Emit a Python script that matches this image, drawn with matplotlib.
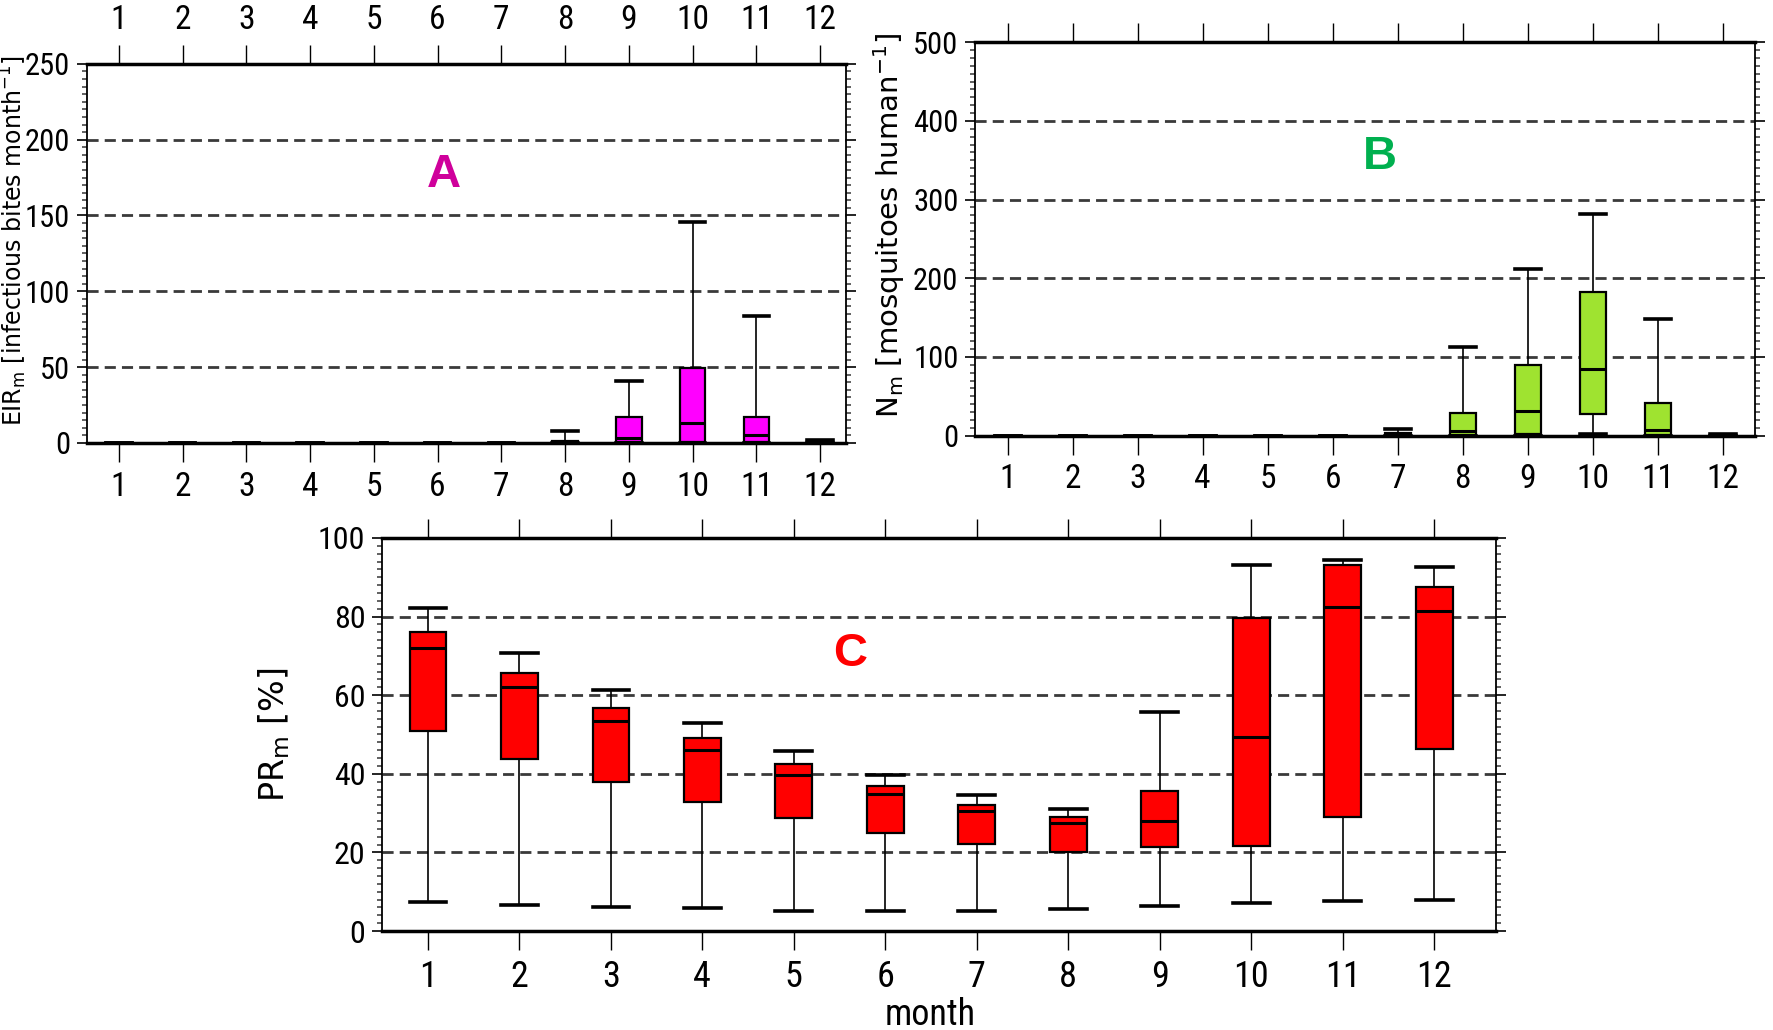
import matplotlib
matplotlib.use("Agg")
import matplotlib.pyplot as plt
from matplotlib import font_manager as fm
from matplotlib.ticker import MultipleLocator

# meses
months = list(range(1, 13))

# panel A - EIR
eir_low = [0, 0, 0, 0, 0, 0, 0, 0, 0, 0, 0, 0]
eir_q1 = [0, 0, 0, 0, 0, 0, 0, 0, 0.5, 0.5, 0.5, 0]
eir_med = [0, 0, 0, 0, 0, 0, 0, 0.5, 3, 13.4, 5.3, 0.5]
eir_q3 = [0, 0, 0, 0, 0, 0, 0, 1.5, 17, 49.5, 17, 1.5]
eir_high = [0, 0, 0, 0, 0, 0, 0, 8, 41, 145.5, 84, 2]

# panel B - N
n_low = [0, 0, 0, 0, 0, 0, 0, 0, 0, 2.5, 0, 0]
n_q1 = [0, 0, 0, 0, 0, 0, 0, 1, 2.5, 27, 0.5, 0]
n_med = [0, 0, 0, 0, 0, 0, 1, 6, 32, 84.5, 7.6, 0.5]
n_q3 = [0, 0, 0, 0, 0, 0, 3, 29, 90, 183, 42, 1.5]
n_high = [0, 0, 0, 0, 0, 0, 9, 113, 212, 282, 148, 2]

# panel C - PR
pr_low = [7.3, 6.7, 6.1, 5.75, 5.2, 5.1, 5.1, 5.5, 6.4, 7.1, 7.6, 7.9]
pr_q1 = [50.8, 43.8, 38.0, 32.9, 28.8, 24.9, 22.1, 20.2, 21.4, 21.7, 28.9, 46.4]
pr_med = [71.9, 62.0, 53.5, 46.1, 39.7, 34.8, 30.6, 27.4, 28.1, 49.4, 82.4, 81.3]
pr_q3 = [76.0, 65.7, 56.7, 49.1, 42.6, 36.9, 32.0, 29.0, 35.6, 79.6, 93.0, 87.6]
pr_high = [82.1, 70.8, 61.2, 52.8, 45.7, 39.7, 34.6, 31.0, 55.7, 93.1, 94.4, 92.7]


def find_narrow():
    # buscar una fuente condensada instalada
    prefs = ["Liberation Sans Narrow", "Roboto Condensed", "DejaVu Sans",
             "Open Sans Condensed", "Noto Sans"]
    found = {}
    for f in fm.fontManager.ttflist:
        narrow = ("Narrow" in f.name or "Condensed" in f.name
                  or f.stretch in ("condensed", "semi-condensed", "extra-condensed"))
        regular = str(f.weight).lower() in ("400", "normal", "regular", "book")
        if narrow and regular and f.style == "normal":
            found.setdefault(f.name, f.fname)
    for p in prefs:
        if p in found:
            return fm.FontProperties(fname=found[p]), True
    if found:
        return fm.FontProperties(fname=list(found.values())[0]), True
    return fm.FontProperties(family=["Liberation Sans", "DejaVu Sans"]), False


tick_font, is_narrow = find_narrow()
SANS = ["DejaVu Sans"]
BOLD = ["Liberation Sans", "DejaVu Sans"]


def tick_fp(size):
    fp = tick_font.copy()
    fp.set_size(size if is_narrow else size - 3)
    return fp


def make_stats(low, q1, med, q3, high):
    return [dict(whislo=a, q1=b, med=c, q3=d, whishi=e, fliers=[])
            for a, b, c, d, e in zip(low, q1, med, q3, high)]


def draw_panel(ax, stats, color, ymax, ystep, yminor, xmax, top_labels, xsize, ysize):
    ax.bxp(stats, positions=months, widths=0.4, patch_artist=True,
           showfliers=False,
           boxprops=dict(facecolor=color, edgecolor="black", linewidth=1.6),
           medianprops=dict(color="black", linewidth=2.2),
           whiskerprops=dict(color="black", linewidth=1.2),
           capprops=dict(color="black", linewidth=2.6),
           capwidths=0.4, zorder=3)
    ax.set_xlim(0.5, xmax)
    ax.set_ylim(0, ymax)
    yt = list(range(0, ymax + 1, ystep))
    ax.set_yticks(yt)
    ax.yaxis.set_minor_locator(MultipleLocator(yminor))
    ax.set_xticks(months)
    ax.set_xticklabels([str(m) for m in months], fontproperties=tick_fp(xsize))
    ax.set_yticklabels([str(v) for v in yt], fontproperties=tick_fp(ysize))
    for v in yt[1:-1]:
        ax.axhline(v, color="#3a3a3a", linewidth=2.0, linestyle=(0, (4, 2.2)), zorder=1)
    ax.tick_params(axis="x", which="major", direction="out", length=14, width=1,
                   top=True, labeltop=top_labels, pad=6)
    ax.tick_params(axis="y", which="major", direction="out", length=7, width=1.2,
                   right=True, pad=5)
    ax.tick_params(axis="y", which="minor", direction="out", length=3.5, width=1.3,
                   right=True, color="#555555")
    ax.spines["top"].set_linewidth(2.5)
    ax.spines["bottom"].set_linewidth(2.5)
    ax.spines["left"].set_linewidth(1.3)
    ax.spines["right"].set_linewidth(1.3)


fig = plt.figure(figsize=(17.73, 10.30), dpi=100)

axA = fig.add_axes([0.049, 0.570, 0.428, 0.368])
draw_panel(axA, make_stats(eir_low, eir_q1, eir_med, eir_q3, eir_high),
           "#ff00ff", 250, 50, 5, 12.4, True, 24, 22)
axA.set_ylabel(r"EIR$_\mathrm{m}$ [infectious bites month$^{-1}$]",
               family=SANS, fontsize=17)
axA.yaxis.set_label_coords(-0.076, 0.535)
axA.text(6.1, 177, "A", color="#cf009b", fontsize=34, fontweight="bold",
         family=BOLD, ha="center", va="center")

axB = fig.add_axes([0.550, 0.577, 0.440, 0.382])
draw_panel(axB, make_stats(n_low, n_q1, n_med, n_q3, n_high),
           "#9fe330", 500, 100, 10, 12.5, False, 24, 22)
axB.set_ylabel(r"N$_\mathrm{m}$ [mosquitoes human$^{-1}$]",
               family=SANS, fontsize=21)
axB.yaxis.set_label_coords(-0.087, 0.533)
axB.text(6.72, 354, "B", color="#00b04f", fontsize=34, fontweight="bold",
         family=BOLD, ha="center", va="center")

axC = fig.add_axes([0.2155, 0.0961, 0.628, 0.3816])
draw_panel(axC, make_stats(pr_low, pr_q1, pr_med, pr_q3, pr_high),
           "#ff0000", 100, 20, 2, 12.67, False, 26, 23)
axC.set_ylabel(r"PR$_\mathrm{m}$ [%]", family=SANS, fontsize=24)
axC.yaxis.set_label_coords(-0.081, 0.50)
axC.set_xlabel("month", fontproperties=tick_fp(26))
axC.xaxis.set_label_coords(0.492, -0.168)
axC.text(5.62, 70.6, "C", color="#ff0000", fontsize=34, fontweight="bold",
         family=BOLD, ha="center", va="center")

fig.savefig("out.png", dpi=100)
